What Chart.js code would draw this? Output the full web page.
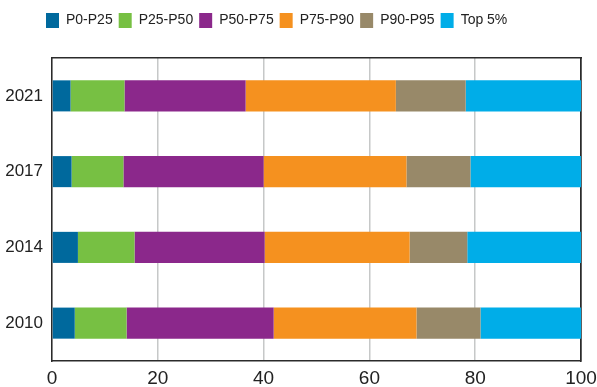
<!DOCTYPE html>
<html>
<head>
<meta charset="utf-8">
<script src="https://cdn.jsdelivr.net/npm/chart.js@4/dist/chart.umd.min.js"></script>
<style>
  html, body { margin: 0; padding: 0; background: #ffffff; }
  #wrap { width: 597px; height: 387px; }
</style>
</head>
<body>
<div id="wrap"><canvas id="c" width="597" height="387"></canvas></div>
<script>
// Survey years (top to bottom)
const years = ['2021', '2017', '2014', '2010'];

// Share of total (%) held by each percentile group
const p0_p25   = [3.5, 3.7, 4.9, 4.3];
const p25_p50  = [10.2, 9.8, 10.7, 9.8];
const p50_p75  = [22.9, 26.5, 24.6, 27.8];
const p75_p90  = [28.4, 27.0, 27.4, 27.0];
const p90_p95  = [13.2, 12.1, 10.9, 12.1];
const top5     = [21.8, 20.9, 21.5, 19.0];

const seriesNames = ['P0-P25', 'P25-P50', 'P50-P75', 'P75-P90', 'P90-P95', 'Top 5%'];
const xTicks = [0, 20, 40, 60, 80, 100];

const colors = ['#00699d', '#77c043', '#8b288b', '#f5911f', '#988969', '#00ade8'];
const seriesData = [p0_p25, p25_p50, p50_p75, p75_p90, p90_p95, top5];

const FONT = "'Liberation Sans Narrow', 'Liberation Sans', Arial, sans-serif";
const DARK = '#2b2b2b';
const LEGEND_PAD = 6;
const LEGEND_START = 46;

const datasets = seriesNames.map((name, i) => ({
  label: name,
  data: seriesData[i],
  backgroundColor: colors[i],
  borderWidth: 0,
  barPercentage: 0.41,
  categoryPercentage: 1.0
}));

// Start the legend row at a fixed x instead of the canvas edge
const legendOffset = {
  id: 'legendOffset',
  afterLayout(chart) {
    const lg = chart.legend;
    if (lg) { lg.left = LEGEND_START - LEGEND_PAD; }
  }
};

new Chart(document.getElementById('c'), {
  type: 'bar',
  data: { labels: years, datasets },
  plugins: [legendOffset],
  options: {
    indexAxis: 'y',
    responsive: false,
    animation: false,
    layout: { autoPadding: false, padding: { top: 7, left: 0, right: 0, bottom: 0 } },
    plugins: {
      tooltip: { enabled: false },
      legend: {
        position: 'top',
        align: 'start',
        labels: {
          color: '#222',
          font: { family: FONT, size: 14 },
          boxWidth: 13,
          boxHeight: 15,
          padding: LEGEND_PAD
        }
      }
    },
    scales: {
      x: {
        type: 'linear',
        stacked: true,
        min: 0,
        max: 100,
        afterBuildTicks: s => { s.ticks = xTicks.map(v => ({ value: v })); },
        afterFit: s => {
          s.height = 26;
          // let the end labels hang past the plot edges
          s.paddingLeft = 0;
          s.paddingRight = 0;
        },
        ticks: {
          color: '#222',
          font: { family: FONT, size: 19 },
          padding: 6,
          maxRotation: 0
        },
        grid: {
          drawTicks: false,
          lineWidth: 1.5,
          color: ctx => (ctx.tick && ctx.tick.value === 100) ? DARK : '#c6c8c8'
        },
        border: { display: true, color: DARK, width: 1.5 }
      },
      xTop: {
        type: 'linear',
        position: 'top',
        min: 0,
        max: 100,
        afterFit: s => { s.height = 20; s.paddingLeft = 0; s.paddingRight = 0; },
        ticks: { display: false },
        grid: { display: false, drawTicks: false },
        border: { display: true, color: DARK, width: 1.5 }
      },
      y: {
        stacked: true,
        afterFit: s => { s.width = 52; },
        ticks: {
          color: '#222',
          font: { family: FONT, size: 17 },
          padding: 9
        },
        grid: { display: false, drawTicks: false },
        border: { display: true, color: DARK, width: 1.5 }
      },
      yRight: {
        type: 'linear',
        position: 'right',
        min: 0,
        max: 1,
        afterFit: s => { s.width = 16; },
        ticks: { display: false },
        grid: { display: false, drawTicks: false },
        border: { display: true, color: DARK, width: 1.5 }
      }
    }
  }
});
</script>
</body>
</html>
